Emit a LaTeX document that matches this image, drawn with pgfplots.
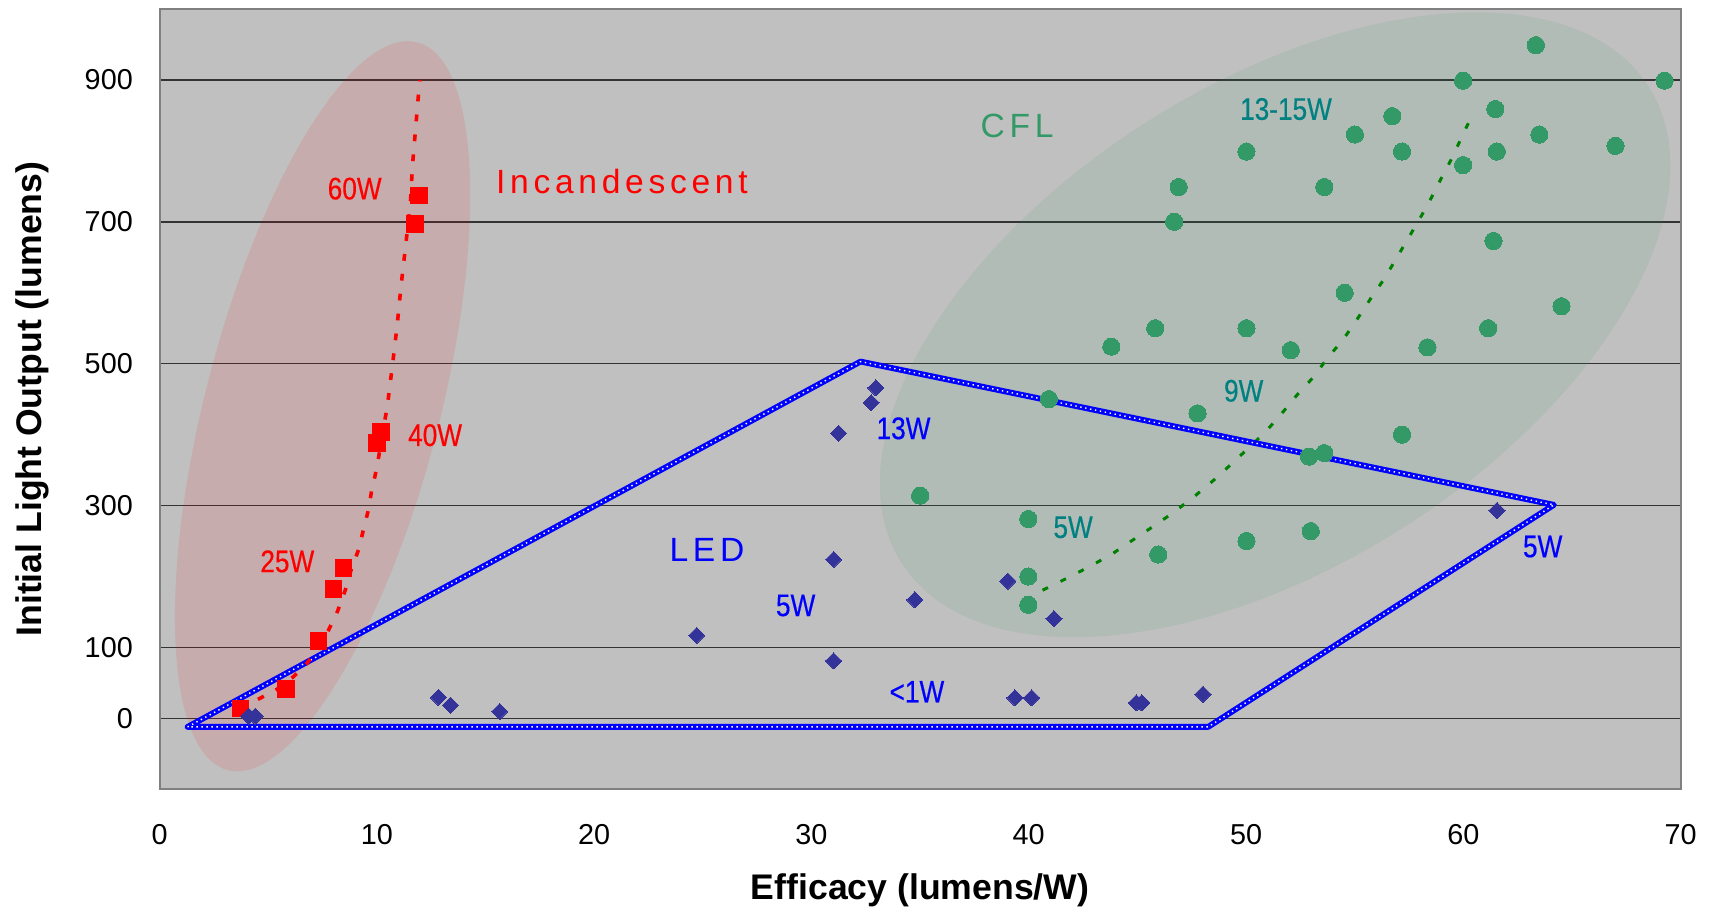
\documentclass[border=0pt]{standalone}
\usepackage{fontspec}
\setmainfont{Liberation Sans}
\newfontfamily\narrowfont[FakeStretch=0.84, FakeBold=0.4]{Liberation Sans}
\newfontfamily\spacedfont[LetterSpace=14]{Liberation Sans}
\usepackage{pgfplots}
\pgfplotsset{compat=1.18}
\definecolor{plotbg}{RGB}{192,192,192}
\definecolor{incred}{RGB}{255,0,0}
\definecolor{cflgreen}{RGB}{51,153,102}
\definecolor{ledblue}{RGB}{0,0,255}
\definecolor{lednavy}{RGB}{51,51,153}
\definecolor{tealtxt}{RGB}{0,128,128}
\definecolor{trendgreen}{RGB}{0,128,0}
\begin{document}
\begin{tikzpicture}
\path[use as bounding box] (-79.8pt,-60.35pt) rectangle (777.2pt,394.65pt);
\begin{axis}[
  scale only axis, width=760.5pt, height=390.15pt,
  xmin=0, xmax=70, ymin=-100, ymax=1000,
  xtick={0,10,20,30,40,50,60,70}, ytick={0,100,300,500,700,900},
  major tick length=0pt,
  ymajorgrids, grid style={black!80, line width=0.7pt},
  axis background/.style={fill=plotbg},
  axis line style={draw=gray, line width=1pt},
  tick label style={font=\fontsize{14.4}{17}\selectfont},
  /pgf/number format/assume math mode=true,
  xticklabel style={inner sep=0pt, anchor=north, yshift=-17.5pt},
  yticklabel style={inner sep=0pt, anchor=east, xshift=-13.2pt},
  xlabel={Efficacy (lumens/W)}, ylabel={Initial Light Output (lumens)},
  label style={font=\fontsize{17.8}{21}\selectfont\bfseries},
  xlabel style={at={(axis description cs:0.5,-0.1072)}, anchor=north, inner sep=0pt},
  ylabel style={at={(axis description cs:-0.0778,0.5)}, anchor=base, inner sep=0pt},
]
% ellipses
\coordinate (rc) at (axis cs:7.5,440);
\coordinate (gc) at (axis cs:51.34,555);
\fill[incred, fill opacity=0.1, rotate around={75.4:(rc)}] (rc) ellipse [x radius=188pt, y radius=58.5pt];
\fill[cflgreen, fill opacity=0.1, rotate around={32.5:(gc)}] (gc) ellipse [x radius=221.5pt, y radius=120pt];

% CFL points
\addplot[only marks, mark=*, mark size=4.3pt, mark options={fill=cflgreen, draw=cflgreen, line width=0pt}] coordinates {
(63.34,949) (59.99,899) (69.26,899) (61.47,859) (56.73,849) (55.01,823) (63.5,823)
(67.0,807) (50.02,799) (57.18,799) (61.54,799) (59.99,780) (46.9,749) (53.6,749)
(46.69,700) (61.39,673) (54.54,600) (64.52,581) (45.82,550) (50.02,550) (61.14,550)
(43.8,524) (52.06,519) (58.35,523) (40.93,450) (47.77,430) (57.18,400) (52.9,369)
(53.6,374) (35.0,314) (39.98,281) (45.96,231) (50.02,250) (52.98,264) (39.98,200) (39.98,160)
};
% CFL trend
\addplot[trendgreen, line width=1.5pt, dash pattern=on 3pt off 7pt, no marks] coordinates {
(39.9,165) (40.1,173) (41.07,187) (41.98,201) (42.92,216) (43.85,232) (44.77,251)
(45.7,270) (46.65,290) (47.59,312) (48.52,336) (49.38,360) (50.11,381) (50.9,404)
(51.65,430) (52.35,456) (53.07,480) (53.75,508) (54.47,534) (55.1,562) (55.74,592)
(56.37,620) (56.91,648) (57.45,676) (57.99,704) (58.53,734) (58.98,761) (59.48,790)
(59.92,819) (60.37,848) (60.5,856)
};
% LED region
\addplot[ledblue, line width=2.9pt, line join=round, no marks] coordinates {
(1.29,-12) (32.26,503) (64.17,301) (48.26,-12) (1.29,-12) (32.26,503)
};
\addplot[white, line width=0.7pt, dash pattern=on 0.7pt off 1.8pt, line join=round, no marks] coordinates {
(1.29,-12) (32.26,503) (64.17,301) (48.26,-12) (1.29,-12)
};
% incandescent trend
\addplot[incred, line width=1.8pt, dash pattern=on 3.4pt off 6.6pt, no marks] coordinates {
(3.7,14) (4.54,27) (5.4,41) (6.13,58) (6.69,74) (7.3,98) (7.77,124) (8.19,151)
(8.56,182) (8.82,210) (9.16,238) (9.39,267) (9.61,294) (9.77,323) (10.0,353)
(10.25,400) (10.48,440) (10.71,496) (10.93,553) (11.11,609) (11.33,668) (11.54,726)
(11.64,780) (11.80,838) (11.97,900)
};
% incandescent points
\addplot[only marks, mark=square*, mark size=4.2pt, mark options={fill=incred, draw=incred, line width=0pt}] coordinates {
(3.72,14) (5.83,41) (7.31,109) (8.0,182) (8.46,212) (10.0,388) (10.2,404) (11.77,697) (11.95,737)
};
% LED points
\addplot[only marks, mark=square*, mark size=2.85pt, mark options={rotate=45, fill=lednavy, draw=lednavy, line width=0pt}] coordinates {
(4.1,3) (4.4,3) (12.83,29.5) (13.39,18.6) (15.65,9.7) (24.72,117) (31.02,224) (31.02,81)
(31.25,402) (32.75,445) (32.96,466) (34.76,167) (39.04,193.5) (41.16,140.5) (39.36,29)
(40.13,29) (44.95,22) (45.2,22) (48.02,34) (61.55,293)
};

% group labels
\node[anchor=base west, inner sep=0pt, text=incred, font=\spacedfont\fontsize{16.8}{20}\selectfont] at (axis cs:15.47,739.6) {Incandescent};
\node[anchor=base west, inner sep=0pt, text=cflgreen, font=\spacedfont\fontsize{16.8}{20}\selectfont] at (axis cs:37.77,819.4) {CFL};
\node[anchor=base west, inner sep=0pt, text=ledblue, font=\spacedfont\fontsize{16.8}{20}\selectfont] at (axis cs:23.45,221.7) {LED};
% wattage labels
\tikzset{wl/.style={anchor=base west, inner sep=0pt, font=\narrowfont\fontsize{15.6}{18}\selectfont}}
\node[wl, text=incred] at (axis cs:7.72,731.6) {60W};
\node[wl, text=incred] at (axis cs:11.42,384) {40W};
\node[wl, text=incred] at (axis cs:4.62,206.1) {25W};
\node[wl, text=ledblue] at (axis cs:32.98,393.7) {13W};
\node[wl, text=ledblue] at (axis cs:28.35,144.2) {5W};
\node[wl, text=ledblue] at (axis cs:33.58,22.4) {<1W};
\node[wl, text=ledblue] at (axis cs:62.73,227.2) {5W};
\node[wl, text=tealtxt] at (axis cs:49.71,843.8) {13-15W};
\node[wl, text=tealtxt] at (axis cs:48.97,446.6) {9W};
\node[wl, text=tealtxt] at (axis cs:41.12,254.4) {5W};
\end{axis}
\end{tikzpicture}
\end{document}
